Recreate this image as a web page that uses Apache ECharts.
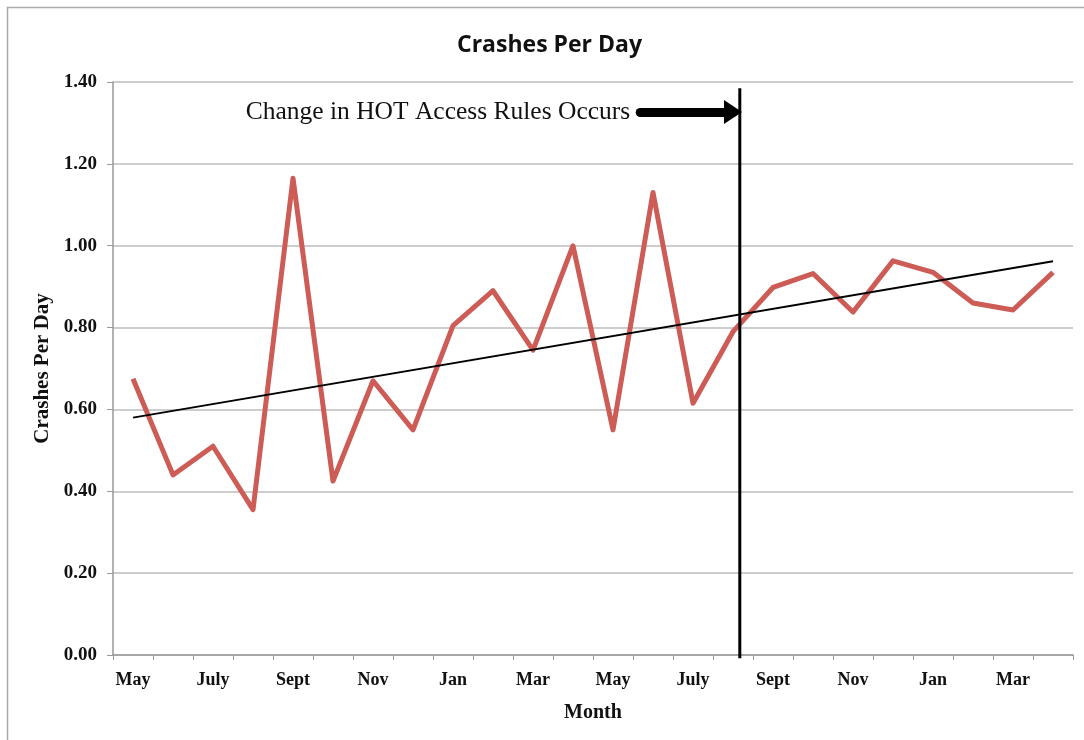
<!DOCTYPE html>
<html>
<head>
<meta charset="utf-8">
<script src="https://cdn.jsdelivr.net/npm/echarts@6/dist/echarts.min.js"></script>
<style>
    html, body { margin: 0; padding: 0; background: #fff; }
    #chart { width: 1084px; height: 740px; }
</style>
</head>
<body>
<div id="chart"></div>
<script>
// months, May through April of the second year
const months = ['May', 'June', 'July', 'Aug', 'Sept', 'Oct', 'Nov', 'Dec', 'Jan', 'Feb', 'Mar', 'Apr',
    'May', 'June', 'July', 'Aug', 'Sept', 'Oct', 'Nov', 'Dec', 'Jan', 'Feb', 'Mar', 'Apr'];
const crashes = [0.675, 0.44, 0.51, 0.355, 1.165, 0.425, 0.67, 0.55, 0.805, 0.89, 0.745, 1.0,
    0.55, 1.13, 0.615, 0.79, 0.898, 0.932, 0.838, 0.963, 0.935, 0.86, 0.843, 0.935];
// linear trend, value at first and last month
const trend = [0.58, 0.962];
const yTicks = [0, 1.4, 0.2]; // min, max, step
// where the rule change falls (in month index units) and the annotation
const changeAt = 15.17;
const changeSpan = [-0.008, 1.385];
const arrowFrom = [12.68, 1.327];
const arrowTo = [15.0, 1.327];
const noteText = 'Change in HOT Access Rules Occurs';

const serif = '"Liberation Serif", "Times New Roman", serif';

function initChart() {
    const chart = echarts.init(document.getElementById('chart'));
    const option = {
        animation: false,
        title: {
            text: 'Crashes Per Day',
            left: 452,
            top: 29,
            textStyle: { fontFamily: '"Open Sans"', fontWeight: 'bold', fontSize: 23, color: '#111' }
        },
        graphic: [{
            type: 'rect',
            shape: { x: 7.5, y: 7.5, width: 1200, height: 800 },
            style: { fill: 'none', stroke: '#aaa', lineWidth: 1.5 },
            silent: true
        }],
        grid: { left: 113, right: 11, top: 82, bottom: 85 },
        xAxis: [{
            type: 'category',
            data: months,
            boundaryGap: true,
            name: 'Month',
            nameLocation: 'middle',
            nameGap: 48,
            nameTextStyle: { fontFamily: serif, fontWeight: 'bold', fontSize: 20, color: '#111' },
            axisLine: { lineStyle: { color: '#999', width: 1.5 } },
            axisTick: { show: true, interval: 0, length: 5, lineStyle: { color: '#999' } },
            axisLabel: {
                interval: 1,
                margin: 16,
                fontFamily: serif, fontWeight: 'bold', fontSize: 18, color: '#111'
            },
            splitLine: { show: false }
        }, {
            type: 'value',
            min: -0.5,
            max: 23.5,
            show: false
        }],
        yAxis: {
            type: 'value',
            min: yTicks[0],
            max: yTicks[1],
            interval: yTicks[2],
            name: 'Crashes Per Day',
            nameLocation: 'middle',
            nameGap: 47,
            nameTextStyle: { fontFamily: serif, fontWeight: 'bold', fontSize: 21, color: '#111' },
            axisLine: { show: true, onZero: false, lineStyle: { color: '#999', width: 1.5 } },
            axisTick: { show: true, length: 6, lineStyle: { color: '#999' } },
            axisLabel: {
                margin: 16,
                formatter: v => v.toFixed(2),
                fontFamily: serif, fontWeight: 'bold', fontSize: 19, color: '#111'
            },
            splitLine: { lineStyle: { color: '#bdbdbd', width: 1.5 } }
        },
        series: [{
            name: 'Crashes',
            type: 'line',
            data: crashes,
            symbol: 'none',
            lineStyle: { color: '#cd5c57', width: 5, join: 'round' },
            markLine: {
                silent: true,
                symbol: 'none',
                lineStyle: { color: '#000', width: 2, type: 'solid' },
                label: { show: false },
                data: [[{ coord: [0, trend[0]] }, { coord: [months.length - 1, trend[1]] }]]
            },
            z: 3
        }, {
            name: 'Change',
            type: 'line',
            xAxisIndex: 1,
            data: [[changeAt, changeSpan[0]], [changeAt, changeSpan[1]]],
            symbol: 'none',
            clip: false,
            lineStyle: { color: '#000', width: 3 },
            markLine: {
                silent: true,
                symbol: ['none', 'triangle'],
                symbolSize: [24, 18],
                lineStyle: { color: '#000', width: 9, type: 'solid', cap: 'round' },
                label: {
                    show: true,
                    position: 'start',
                    distance: 10,
                    formatter: noteText,
                    fontFamily: serif, fontSize: 25.5, color: '#111'
                },
                data: [[{ coord: arrowFrom }, { coord: arrowTo }]]
            },
            z: 4
        }]
    };
    chart.setOption(option);
}

document.addEventListener('DOMContentLoaded', initChart);
</script>
</body>
</html>
